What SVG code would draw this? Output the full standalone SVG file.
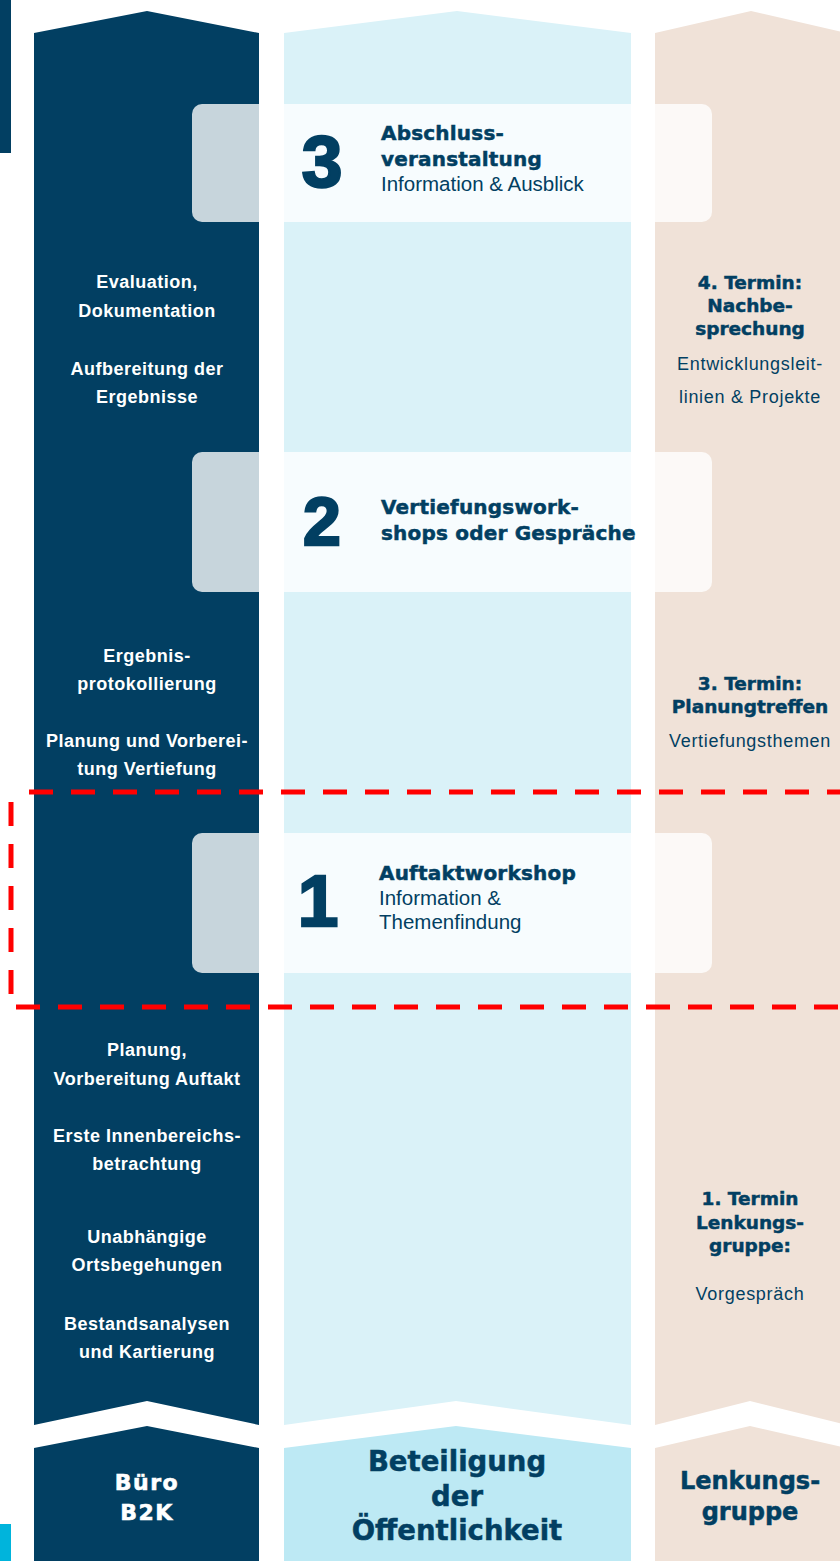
<svg xmlns="http://www.w3.org/2000/svg" width="840" height="1561" viewBox="0 0 840 1561">
<style>
.dark{fill:#023f62}
.cyan{fill:#daf2f8}
.cyanh{fill:#bde9f4}
.beige{fill:#f0e2d8}
.box{fill:#ffffff;fill-opacity:0.78}
.wb{font-family:"Liberation Sans",Arial,sans-serif;font-weight:bold;font-size:18px;fill:#ffffff;text-anchor:middle;letter-spacing:0.5px}
.hd{font-family:"DejaVu Sans",sans-serif;font-weight:bold;font-size:22px;fill:#ffffff;stroke:#ffffff;stroke-width:0.6;text-anchor:middle;letter-spacing:1.5px}
.hv{font-family:"DejaVu Sans",sans-serif;font-weight:bold;fill:#023f62;stroke:#023f62;stroke-width:0.5}
.rt{font-size:18.5px;text-anchor:middle}
.bt{font-size:20px;letter-spacing:0.2px}
.rg{font-family:"Liberation Sans",Arial,sans-serif;fill:#023f62}
.rr{font-size:18px;text-anchor:middle;letter-spacing:0.7px}
.br{font-size:20.5px}
.num{font-family:"Liberation Sans",Arial,sans-serif;font-weight:bold;fill:#023f62;stroke:#023f62;stroke-width:2.5;text-anchor:middle}
</style>
<rect width="840" height="1561" fill="#ffffff"/>
<g id="decor">
<rect x="0" y="0" width="11" height="153" class="dark"/>
<rect x="0" y="1524" width="11" height="37" fill="#00b4dc"/>
</g>
<g id="col-buero">
<polygon class="dark" points="34,33 147,11 259,33 259,1425 147,1401 34,1425"/>
<polygon class="dark" points="34,1448 147,1426 259,1448 259,1561 34,1561"/>
<text class="hd" x="147" y="1490">Büro</text>
<text class="hd" x="147" y="1520">B2K</text>
</g>
<g id="col-oeffentlichkeit">
<polygon class="cyan" points="284,33 457,11 631,33 631,1425 456,1401 284,1425"/>
<polygon class="cyanh" points="284,1448 456,1426 631,1448 631,1561 284,1561"/>
<text class="hv" x="457" y="1471" font-size="27.5" text-anchor="middle">Beteiligung</text>
<text class="hv" x="457" y="1506" font-size="27.5" text-anchor="middle">der</text>
<text class="hv" x="457" y="1540" font-size="27.5" text-anchor="middle">Öffentlichkeit</text>
</g>
<g id="col-lenkungsgruppe">
<polygon class="beige" points="655,33 751,11 847,33 847,1425 750,1401 655,1425"/>
<polygon class="beige" points="655,1448 750,1426 847,1448 847,1561 655,1561"/>
<text class="hv" x="750" y="1489" font-size="24" text-anchor="middle">Lenkungs-</text>
<text class="hv" x="750" y="1520" font-size="24" text-anchor="middle">gruppe</text>
</g>
<g id="step-3">
<rect class="box" x="192" y="104" width="520" height="118" rx="10"/>
<text class="num" x="322" y="187" font-size="73">3</text>
<text class="hv bt" x="381" y="140">Abschluss-</text>
<text class="hv bt" x="381" y="166">veranstaltung</text>
<text class="rg br" x="381" y="191">Information &amp; Ausblick</text>
</g>
<g id="step-2">
<rect class="box" x="192" y="452" width="520" height="140" rx="10"/>
<text class="num" x="322" y="545" font-size="68">2</text>
<text class="hv bt" x="381" y="514">Vertiefungswork-</text>
<text class="hv bt" x="381" y="540">shops oder Gespräche</text>
</g>
<g id="step-1">
<rect class="box" x="192" y="833" width="520" height="140" rx="10"/>
<text class="num" x="318" y="926" font-size="73">1</text>
<text class="hv bt" x="379" y="880">Auftaktworkshop</text>
<text class="rg br" x="379" y="905">Information &amp;</text>
<text class="rg br" x="379" y="929">Themenfindung</text>
</g>
<g id="buero-tasks">
<text class="wb" x="147" y="288">Evaluation,</text>
<text class="wb" x="147" y="317">Dokumentation</text>
<text class="wb" x="147" y="375">Aufbereitung der</text>
<text class="wb" x="147" y="403">Ergebnisse</text>
<text class="wb" x="147" y="662">Ergebnis-</text>
<text class="wb" x="147" y="690">protokollierung</text>
<text class="wb" x="147" y="747">Planung und Vorberei-</text>
<text class="wb" x="147" y="775">tung Vertiefung</text>
<text class="wb" x="147" y="1056">Planung,</text>
<text class="wb" x="147" y="1085">Vorbereitung Auftakt</text>
<text class="wb" x="147" y="1142">Erste Innenbereichs-</text>
<text class="wb" x="147" y="1170">betrachtung</text>
<text class="wb" x="147" y="1243">Unabhängige</text>
<text class="wb" x="147" y="1271">Ortsbegehungen</text>
<text class="wb" x="147" y="1330">Bestandsanalysen</text>
<text class="wb" x="147" y="1358">und Kartierung</text>
</g>
<g id="termin-4">
<text class="hv rt" x="750" y="289">4. Termin:</text>
<text class="hv rt" x="750" y="312">Nachbe-</text>
<text class="hv rt" x="750" y="335">sprechung</text>
<text class="rg rr" x="750" y="370">Entwicklungsleit-</text>
<text class="rg rr" x="750" y="403">linien &amp; Projekte</text>
</g>
<g id="termin-3">
<text class="hv rt" x="750" y="690">3. Termin:</text>
<text class="hv rt" x="750" y="713">Planungtreffen</text>
<text class="rg rr" x="750" y="747">Vertiefungsthemen</text>
</g>
<g id="termin-1">
<text class="hv rt" x="750" y="1205">1. Termin</text>
<text class="hv rt" x="750" y="1229">Lenkungs-</text>
<text class="hv rt" x="750" y="1252">gruppe:</text>
<text class="rg rr" x="750" y="1300">Vorgespräch</text>
</g>
<g id="connectors">
<rect x="11" y="792" width="840" height="215" fill="none" stroke="#ff0000" stroke-width="5" stroke-dasharray="24 18" stroke-dashoffset="24"/>
</g>
</svg>
